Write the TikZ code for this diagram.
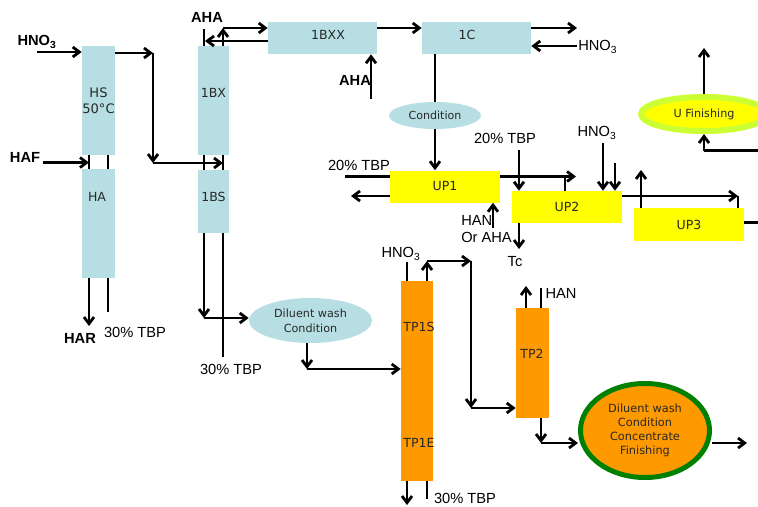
\documentclass[tikz,border=0pt]{standalone}
\usepackage{fontspec}
\setmainfont{Liberation Sans}
\newfontfamily\boxfont{DejaVu Sans}
\usetikzlibrary{arrows.meta,calc,shapes.geometric}
\definecolor{lblue}{RGB}{183,222,226}
\definecolor{upyellow}{RGB}{255,255,0}
\definecolor{tporange}{RGB}{255,153,0}
\definecolor{dgreen}{RGB}{0,128,0}
\definecolor{lgreen}{RGB}{204,255,51}
\definecolor{boxtext}{RGB}{40,40,40}
\tikzset{
  colbox/.style={fill=lblue, draw=none, inner sep=0pt, text=boxtext,
    font=\boxfont\fontsize{9.4}{12}\selectfont, align=center},
  upbox/.style={fill=upyellow, draw=none, inner sep=0pt, text=boxtext,
    minimum width=110*0.75pt, minimum height=32*0.75pt, font=\boxfont\fontsize{9.4}{12}\selectfont},
  tpbox/.style={fill=tporange, draw=none, inner sep=0pt, text=boxtext,
    font=\boxfont\fontsize{9.4}{12}\selectfont},
  boxlbl/.style={inner sep=0pt, text=boxtext, font=\boxfont\fontsize{9.4}{12}\selectfont},
  lbl/.style={inner sep=0pt, font=\fontsize{11}{13}\selectfont},
  lblb/.style={inner sep=0pt, font=\bfseries\fontsize{11}{13}\selectfont},
  plain/.style={line width=2.1pt},
  flow/.style={line width=2.1pt, -{Straight Barb[length=5pt,width=7.5pt]}},
}
\begin{document}
\begin{tikzpicture}[x=0.75pt,y=-0.75pt]
\useasboundingbox (0,0) rectangle (758,507);

% ---------- columns ----------
\node[colbox, minimum width=33*0.75pt, minimum height=109*0.75pt, font=\boxfont\fontsize{9.8}{12}\selectfont] (HS) at (98.5,100.5) {HS\\50°C};
\node[colbox, minimum width=33*0.75pt, minimum height=109*0.75pt] (HA) at (98.5,223.5) {};
\node[boxlbl] (HAlbl) at (97,197) {HA};
\node[colbox, minimum width=31*0.75pt, minimum height=109*0.75pt] (1BX) at (213.5,100.5) {};
\node[boxlbl] (1BXlbl) at (213.5,93) {1BX};
\node[colbox, minimum width=31*0.75pt, minimum height=63*0.75pt] (1BS) at (213.5,201.5) {};
\node[boxlbl] (1BSlbl) at (213.5,197) {1BS};
\node[colbox, minimum width=109*0.75pt, minimum height=32*0.75pt] (1BXX) at (322.5,38) {};
\node[boxlbl] (1BXXlbl) at (328,35) {1BXX};
\node[colbox, minimum width=109*0.75pt, minimum height=32*0.75pt] (1C) at (476.5,38) {};
\node[boxlbl] (1Clbl) at (467,35) {1C};
\node[colbox, shape=ellipse, minimum width=92*0.75pt, minimum height=27*0.75pt,
  font=\boxfont\fontsize{8.3}{10}\selectfont] (Cond) at (435,115.5) {Condition};

\node[upbox] (UP1) at (445,186.5) {UP1};
\node[upbox] (UP2) at (567,207) {UP2};
\node[upbox, minimum height=33*0.75pt] (UP3) at (689,224.5) {UP3};

\node[shape=ellipse, fill=upyellow, draw=lgreen, line width=4.5pt, inner sep=0pt,
  minimum width=126*0.75pt, minimum height=34*0.75pt, text=boxtext,
  font=\boxfont\fontsize{8.4}{11}\selectfont] (UF) at (704,114) {U Finishing};

\node[colbox, shape=ellipse, minimum width=123*0.75pt, minimum height=45*0.75pt,
  font=\boxfont\fontsize{8.4}{11.3}\selectfont] (DW1) at (310.5,320.5) {Diluent wash\\Condition};

\node[tpbox, minimum width=32*0.75pt, minimum height=200*0.75pt] (TP1) at (417,381) {};
\node[boxlbl] (TP1Slbl) at (419,327) {TP1S};
\node[boxlbl] (TP1Elbl) at (419,443) {TP1E};
\node[tpbox, minimum width=33*0.75pt, minimum height=110*0.75pt] (TP2) at (532.5,363) {};
\node[boxlbl] (TP2lbl) at (532,354) {TP2};

\node[shape=ellipse, fill=tporange, draw=dgreen, line width=3.75pt, inner sep=0pt,
  minimum width=129*0.75pt, minimum height=94*0.75pt, text=boxtext, align=center,
  font=\boxfont\fontsize{8.5}{10.4}\selectfont] (DW2) at (645,430.5)
  {Diluent wash\\Condition\\Concentrate\\Finishing};

% ---------- labels ----------
\node[lblb] (Lhno3a) at (37,42) {HNO\textsubscript{3}};
\node[lblb] (Lhaf) at (25,157) {HAF};
\node[lblb] (Lhar) at (80,338) {HAR};
\node[lbl] (Ltbpa) at (135,332) {30\% TBP};
\node[lblb] (Laha1) at (207,17) {AHA};
\node[lblb] (Laha2) at (355,80) {AHA};
\node[lbl, anchor=west] (Lhno3b) at (578,47) {HNO\textsubscript{3}};
\node[lbl] (Ltbp1) at (359,165) {20\% TBP};
\node[lbl, align=left, anchor=west, font=\fontsize{11}{12.75}\selectfont] (Lhan1) at (461,229.5) {HAN\\Or AHA};
\node[lbl] (Ltbp2) at (505,138) {20\% TBP};
\node[lbl] (Ltc) at (515,262) {Tc};
\node[lbl] (Lhno3c) at (597,133) {HNO\textsubscript{3}};
\node[lbl] (Ltbpb) at (231,369) {30\% TBP};
\node[lbl] (Lhno3d) at (401,254) {HNO\textsubscript{3}};
\node[lbl] (Ltbpc) at (465,498) {30\% TBP};
\node[lbl] (Lhan2) at (561,293) {HAN};

% ---------- coordinates ----------
\coordinate (hno3a) at (37,52);
\coordinate (haf) at (43,162.5);
\coordinate (t1) at (89,162.5);
\coordinate (t2) at (108,162.5);
\coordinate (har) at (89,326);
\coordinate (tbpA) at (108,312);
\coordinate (j1) at (153,53);
\coordinate (j2) at (153,163);
\coordinate (t3) at (204,163);
\coordinate (t4) at (223,163);
\coordinate (t5) at (204,29);
\coordinate (k1) at (205,41);
\coordinate (k2) at (223,28);
\coordinate (c1out) at (577,28);
\coordinate (hno3b) at (577,46);
\coordinate (aha2) at (371,99);
\coordinate (tbp1) at (345,176.5);
\coordinate (up1out) at (351,196);
\coordinate (u1r) at (576,176.5);
\coordinate (u1t) at (565,176.5);
\coordinate (han1) at (493,228);
\coordinate (tbp2) at (519,150);
\coordinate (tc) at (519,249);
\coordinate (h3) at (603,143);
\coordinate (h4) at (615,163);
\coordinate (u2r) at (738,196);
\coordinate (u3u) at (641,170);
\coordinate (u3r) at (758,222.5);
\coordinate (uf1) at (704,48);
\coordinate (uf2) at (758,150.5);
\coordinate (b1) at (204,318);
\coordinate (b2) at (223,357);
\coordinate (b3) at (307,369);
\coordinate (p1) at (407,262);
\coordinate (p2) at (427,261);
\coordinate (p3) at (471,261);
\coordinate (p4) at (471,408);
\coordinate (p5) at (407,505);
\coordinate (p6) at (427,499);
\coordinate (q1) at (526,286);
\coordinate (q2) at (541,288);
\coordinate (q3) at (541,443);
\coordinate (q5) at (747,443);

% ---------- connectors ----------
\draw[flow] (hno3a) -- (hno3a -| HS.west);
\draw[flow] (haf) -- (t1);
\draw[plain] (t1 |- HS.south) -- (t1 |- HA.north);
\draw[plain] (t2 |- HS.south) -- (t2 |- HA.north);
\draw[flow] (t1 |- HA.south) -- (har);
\draw[plain] (tbpA |- HA.south) -- (tbpA);

\draw[flow] (j1 -| HS.east) -- (j1);
\draw[flow] (j1) -- (j2);
\draw[flow] (j2) -- (t4);
\draw[plain] (t3 |- 1BX.south) -- (t3 |- 1BS.north);
\draw[plain] (t4 |- 1BX.south) -- (t4 |- 1BS.north);

\draw[plain] (t5) -- (t5 |- 1BX.north);
\draw[flow] (k1 -| 1BXX.west) -- (k1);
\draw[flow] (k2 |- 1BX.north) -- (k2);
\draw[flow] (k2) -- (k2 -| 1BXX.west);
\draw[flow] (1BXX.east |- k2) -- (1C.west |- k2);
\draw[flow] (1C.east |- c1out) -- (c1out);
\draw[flow] (hno3b) -- (hno3b -| 1C.east);
\draw[flow] (aha2) -- (aha2 |- 1BXX.south);
\draw[plain] (Cond.north |- 1C.south) -- (Cond.north);
\draw[flow] (Cond.south) -- (Cond.south |- UP1.north);

\draw[plain] (tbp1) -- (tbp1 -| UP1.west);
\draw[flow] (up1out -| UP1.west) -- (up1out);
\draw[flow] (u1r -| UP1.east) -- (u1r);
\draw[plain] (u1t) -- (u1t |- UP2.north);
\draw[flow] (han1) -- (han1 |- UP1.south);
\draw[flow] (tbp2) -- (tbp2 |- UP2.north);
\draw[flow] (tc |- UP2.south) -- (tc);
\draw[flow] (h3) -- (h3 |- UP2.north);
\draw[flow] (h4) -- (h4 |- UP2.north);
\draw[flow] (u2r -| UP2.east) -- (u2r);
\draw[plain] (u2r) -- (u2r |- UP3.north);
\draw[flow] (u3u |- UP3.north) -- (u3u);
\draw[plain] (u3r -| UP3.east) -- (u3r);

\draw[flow] (UF.north) -- (uf1);
\draw[plain] (uf2) -- (uf2 -| UF.south);
\draw[flow] (uf2 -| UF.south) -- (UF.south);

\draw[flow] (b1 |- 1BS.south) -- (b1);
\draw[flow] (b1) -- (b1 -| DW1.west);
\draw[plain] (b2 |- 1BS.south) -- (b2);
\draw[flow] (b3 |- DW1.south) -- (b3);
\draw[flow] (b3) -- (b3 -| TP1.west);

\draw[plain] (p1) -- (p1 |- TP1.north);
\draw[flow] (p2 |- TP1.north) -- (p2);
\draw[flow] (p2) -- (p3);
\draw[flow] (p3) -- (p4);
\draw[flow] (p4) -- (p4 -| TP2.west);
\draw[flow] (p5 |- TP1.south) -- (p5);
\draw[plain] (p6 |- TP1.south) -- (p6);

\draw[flow] (q1 |- TP2.north) -- (q1);
\draw[plain] (q2) -- (q2 |- TP2.north);
\draw[flow] (q3 |- TP2.south) -- (q3);
\draw[flow] (q3) -- (q3 -| DW2.west);
\draw[flow] (q5 -| DW2.east) -- (q5);
\end{tikzpicture}
\end{document}
